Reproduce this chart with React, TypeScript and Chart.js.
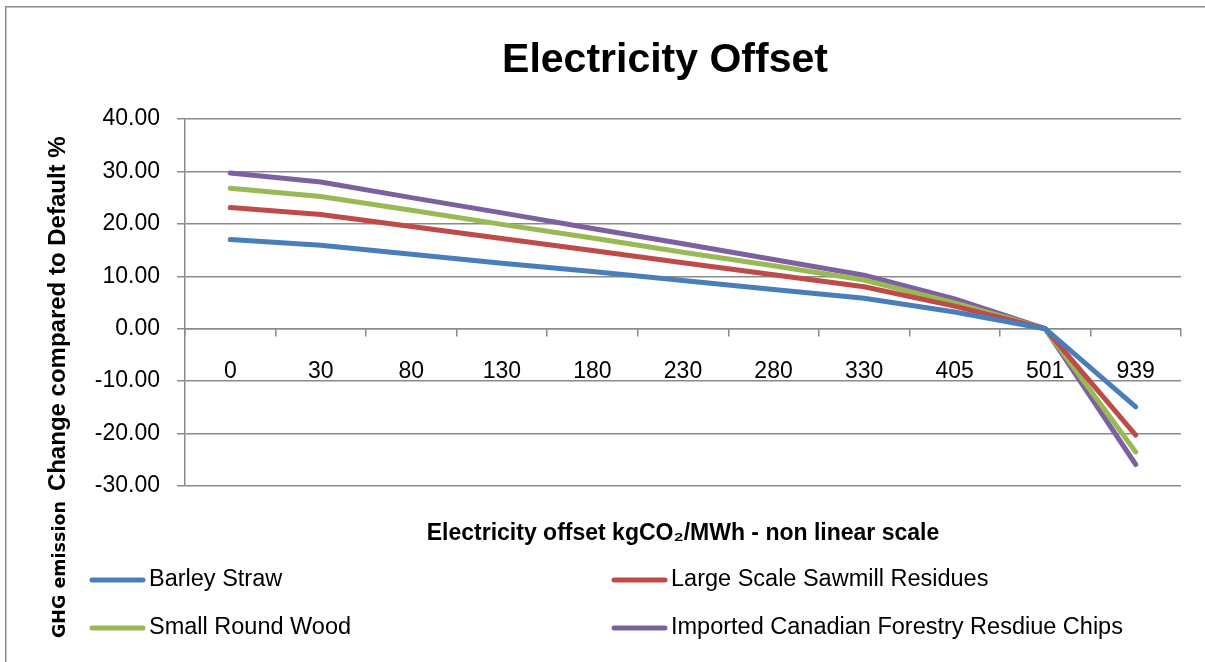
import React, { useEffect, useRef } from "react";
import { Chart, registerables } from "chart.js";

Chart.register(...registerables);

// ---- data ----
const categories = ["0", "30", "80", "130", "180", "230", "280", "330", "405", "501", "939"];
const barleyStraw = [17.0, 15.9, 14.2, 12.5, 10.9, 9.2, 7.5, 5.8, 3.2, 0.0, -14.9];
const largeScaleSawmillResidues = [23.1, 21.8, 19.5, 17.2, 14.9, 12.6, 10.3, 8.0, 4.3, 0.0, -20.3];
const smallRoundWood = [26.8, 25.2, 22.6, 19.9, 17.3, 14.6, 12.0, 9.3, 4.9, 0.0, -23.5];
const importedCanadianChips = [29.7, 28.0, 25.0, 22.1, 19.1, 16.2, 13.2, 10.2, 5.7, 0.0, -25.9];
const seriesNames = [
  "Barley Straw",
  "Large Scale Sawmill Residues",
  "Small Round Wood",
  "Imported Canadian Forestry Resdiue Chips",
];
const yMin = -30;
const yMax = 40;
const yStep = 10;
const chartTitle = "Electricity Offset";
const xAxisTitle = "Electricity offset kgCO\u2082/MWh - non linear scale";
const yAxisTitleParts = ["GHG emission", "Change compared to Default %"];

// ---- styles ----
const seriesColors = ["#4A7EBB", "#BE4B48", "#98B954", "#7D60A0"];
const FONT = "'Liberation Sans', Arial, sans-serif";
const GRID = "#8a8a8a";

const decorPlugin = {
  id: "decor",
  beforeDraw(chart: any) {
    const ctx = chart.ctx;
    ctx.save();
    ctx.fillStyle = "#ffffff";
    ctx.fillRect(0, 0, chart.width, chart.height);
    ctx.strokeStyle = "#8c8c8c";
    ctx.lineWidth = 1.5;
    ctx.strokeRect(5.75, 6.75, 1400, 900);
    ctx.restore();
  },
  afterDraw(chart: any) {
    const ctx = chart.ctx;
    // chart title
    ctx.save();
    ctx.fillStyle = "#000";
    ctx.font = `bold 41px ${FONT}`;
    ctx.textAlign = "center";
    ctx.textBaseline = "middle";
    ctx.fillText(chartTitle, 665, 61);
    ctx.restore();

    // y axis title (rotated)
    ctx.save();
    ctx.fillStyle = "#000";
    ctx.translate(65, 638);
    ctx.rotate(-Math.PI / 2);
    ctx.textAlign = "left";
    ctx.textBaseline = "alphabetic";
    ctx.font = "bold 17.5px 'DejaVu Sans', Verdana, sans-serif";
    ctx.fillText(yAxisTitleParts[0], 0, 0);
    const w0 = ctx.measureText(yAxisTitleParts[0]).width;
    ctx.font = `bold 24px ${FONT}`;
    ctx.fillText(yAxisTitleParts[1], w0 + 10, 0);
    ctx.restore();

    // legend, two columns
    const cols = [90, 612];
    const rows = [580, 628];
    chart.data.datasets.forEach((ds: any, i: number) => {
      const x = cols[i % 2];
      const y = rows[Math.floor(i / 2)];
      ctx.save();
      ctx.strokeStyle = ds.borderColor;
      ctx.lineWidth = 5;
      ctx.lineCap = "round";
      ctx.beginPath();
      ctx.moveTo(x + 2, y);
      ctx.lineTo(x + 53, y);
      ctx.stroke();
      ctx.fillStyle = "#000";
      ctx.font = `23.5px ${FONT}`;
      ctx.textAlign = "left";
      ctx.textBaseline = "middle";
      ctx.fillText(ds.label, x + 59, y);
      ctx.restore();
    });
  },
};

export default function App() {
  const canvasRef = useRef<HTMLCanvasElement | null>(null);

  useEffect(() => {
    if (!canvasRef.current) return;
    const seriesData = [barleyStraw, largeScaleSawmillResidues, smallRoundWood, importedCanadianChips];
    const chart = new Chart(canvasRef.current, {
      type: "line",
      data: {
        labels: categories,
        datasets: seriesData.map((d, i) => ({
          label: seriesNames[i],
          data: d,
          borderColor: seriesColors[i],
          backgroundColor: seriesColors[i],
          borderWidth: 5,
          pointRadius: 0,
          pointHoverRadius: 0,
          tension: 0,
          fill: false,
          borderCapStyle: "round",
          borderJoinStyle: "round",
          xAxisID: "x",
          yAxisID: "y",
        })),
      },
      options: {
        responsive: false,
        animation: false,
        layout: { padding: { top: 119, right: 24, bottom: 106, left: 0 } },
        plugins: {
          legend: { display: false },
          title: { display: false },
          tooltip: { enabled: false },
        },
        scales: {
          x: {
            type: "category",
            position: { y: 0 },
            offset: true,
            grid: {
              offset: true,
              drawOnChartArea: false,
              drawTicks: true,
              tickLength: 7,
              color: GRID,
              lineWidth: 1.5,
            },
            border: { display: true, color: GRID, width: 1.5 },
            ticks: {
              font: { family: FONT, size: 23 },
              color: "#000",
              padding: 22,
              maxRotation: 0,
              autoSkip: false,
            },
          },
          xTitle: {
            type: "category",
            axis: "x",
            position: "bottom",
            grid: { display: false, drawTicks: false },
            border: { display: false },
            ticks: { display: false },
            title: {
              display: true,
              text: xAxisTitle,
              color: "#000",
              font: { family: FONT, size: 23, weight: "bold" },
              padding: { top: 0, bottom: 9 },
            },
            afterFit: (s: any) => {
              s.height = 70;
            },
          },
          y: {
            type: "linear",
            position: "left",
            min: yMin,
            max: yMax,
            ticks: {
              stepSize: yStep,
              font: { family: FONT, size: 23 },
              color: "#000",
              padding: 17,
              callback: (v: any) => Number(v).toFixed(2),
            },
            grid: { color: GRID, lineWidth: 1.5, tickLength: 8 },
            border: { display: true, color: GRID, width: 1.5 },
            afterFit: (s: any) => {
              s.width = 185;
            },
          },
        },
      } as any,
      plugins: [decorPlugin],
    });
    return () => chart.destroy();
  }, []);

  return (
    <div style={{ position: "fixed", left: 0, top: 0, width: 1205, height: 662 }}>
      <canvas ref={canvasRef} width={1205} height={662} />
    </div>
  );
}
